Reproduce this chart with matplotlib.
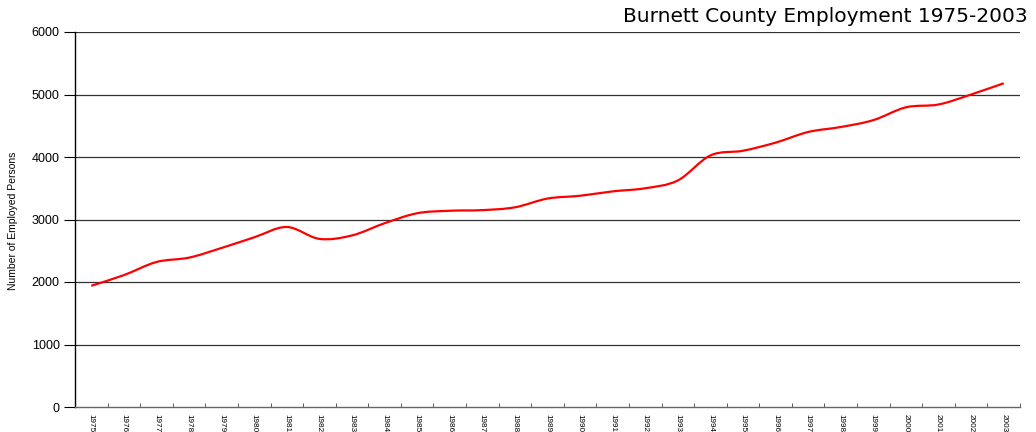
import numpy as np
import matplotlib.pyplot as plt
from matplotlib.path import Path
from matplotlib.patches import PathPatch

years = list(range(1975, 2004))
employed = [1940, 2110, 2320, 2390, 2545, 2715, 2880, 2690, 2745, 2940,
            3100, 3140, 3150, 3195, 3335, 3380, 3450, 3500, 3625, 4025,
            4100, 4230, 4400, 4480, 4590, 4795, 4840, 5000, 5180]
yticks = [0, 1000, 2000, 3000, 4000, 5000, 6000]
title = 'Burnett County Employment 1975-2003'
ylabel = 'Number of Employed Persons'

plt.rcParams['font.family'] = ['Liberation Sans', 'DejaVu Sans']

fig = plt.figure(figsize=(10.36, 4.32), dpi=100)
ax = fig.add_axes([75 / 1036, 1 - 407 / 432, 945 / 1036, 375 / 432])

# smoothed line like excel (bezier through points, tension 1/6)
x = np.arange(len(years), dtype=float)
y = np.array(employed, dtype=float)
pts = np.column_stack([x, y])
verts = [pts[0]]
codes = [Path.MOVETO]
n = len(pts)
for i in range(n - 1):
    p0 = pts[max(i - 1, 0)]
    p1 = pts[i]
    p2 = pts[i + 1]
    p3 = pts[min(i + 2, n - 1)]
    verts += [p1 + (p2 - p0) / 6, p2 - (p3 - p1) / 6, p2]
    codes += [Path.CURVE4] * 3
ax.add_patch(PathPatch(Path(verts, codes), facecolor='none', edgecolor='#ff0000', lw=1.6))

ax.set_xlim(-0.5, len(years) - 0.5)
ax.set_ylim(0, 6000)
ax.set_yticks(yticks)
ax.set_yticklabels([str(v) for v in yticks], fontsize=9)
ax.set_xticks(x)
ax.set_xticklabels([str(v) for v in years], rotation=-90, fontsize=5.9,
                   fontstretch='condensed', va='top')
ax.set_xticks(np.arange(len(years) + 1) - 0.5, minor=True)
ax.tick_params(axis='x', which='major', length=0, pad=5)
ax.tick_params(axis='x', which='minor', length=3, direction='in', color='#444444')
ax.tick_params(axis='y', length=8, width=0.8, pad=3)

for v in yticks[1:]:
    ax.axhline(v, color='#333333', lw=0.9, zorder=0)

for s in ['top', 'right']:
    ax.spines[s].set_visible(False)
ax.spines['left'].set_linewidth(1)
ax.spines['bottom'].set_color('#666666')
ax.spines['bottom'].set_linewidth(1)

fig.text(13 / 1036, 1 - 221 / 432, ylabel, rotation=90, ha='center', va='center',
         fontsize=7.5, fontstretch='condensed')
fig.text(1028 / 1036, 1 - 17 / 432, title, ha='right', va='center', fontsize=14.5,
         family='DejaVu Sans')

fig.savefig('out.png', dpi=100)
